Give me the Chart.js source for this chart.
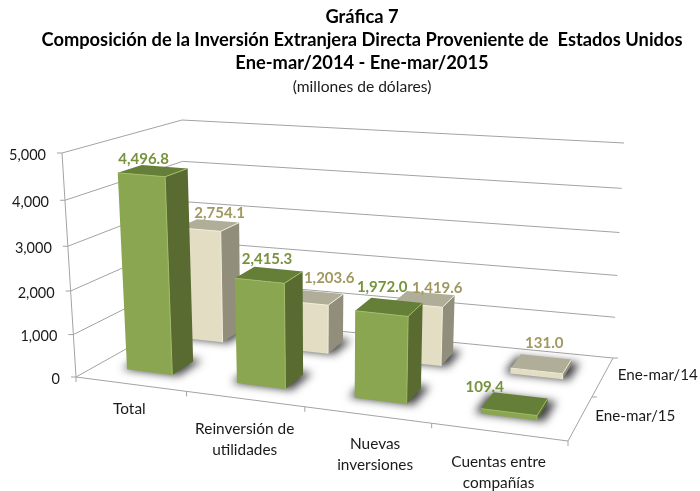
<!DOCTYPE html>
<html>
<head>
<meta charset="utf-8">
<style>
  body { margin: 0; background: #fff; }
</style>
</head>
<body>
<canvas id="myChart" width="700" height="491"></canvas>
<script src="https://cdn.jsdelivr.net/npm/chart.js@4/dist/chart.umd.min.js"></script>
<script>
const categorias = ['Total', ['Reinversión de', 'utilidades'], ['Nuevas', 'inversiones'], ['Cuentas entre', 'compañías']];
const valores2015 = [4496.8, 2415.3, 1972.0, 109.4];
const valores2014 = [2754.1, 1203.6, 1419.6, 131.0];
const ticksValor = [0, 1000, 2000, 3000, 4000, 5000];

const fuente = 'Lato, "Open Sans", sans-serif';

// --- CAJA 3D: esquinas del marco en pantalla (piso y techo) ---
const piso = { fi: [76, 377], fd: [568, 441], ti: [185, 316], td: [613, 358] };
const techo = { fi: [62, 153], fd: [581, 196], ti: [182, 120], td: [624, 143] };

// profundidad de cada serie dentro de la caja [desde, hasta]
const filas = [[0.17, 0.37], [0.67, 0.86]];
const estilos = [
  { frente: '#8AA650', lado: '#596B30', arriba: '#667F38', brillo: '#A2BC68', texto: '#76933C' },
  { frente: '#E2DDC3', lado: '#918F7C', arriba: '#B0AE98', brillo: '#F1EEDC', texto: '#A09860' }
];
// ajuste a mano de las etiquetas respecto al centro de la cara superior
const ajusteEtiquetas = [
  [[-9.5, -12], [-2, -16], [-7, -20], [-30, -17]],
  [[11, -12], [16, -19], [13, -11], [3, -21]]
];
const ajusteCategorias = [[-1, -3], [0, 2], [8, 1], [0, 2]];

function curva(t, w) {
  return t / (t + (1 - t) * w);
}

function mezcla(a, b, t) {
  return [a[0] + (b[0] - a[0]) * t, a[1] + (b[1] - a[1]) * t];
}

function proyectar(u, d, h) {
  const fu = curva(u, 1.15);
  const fd = curva(d, 0.886);
  const fh = curva(h, 1.07);
  const abajo = mezcla(mezcla(piso.fi, piso.fd, fu), mezcla(piso.ti, piso.td, fu), fd);
  const alto = mezcla(mezcla(techo.fi, techo.fd, fu), mezcla(techo.ti, techo.td, fu), fd);
  return mezcla(abajo, alto, fh);
}

function poligono(ctx, puntos, color) {
  ctx.beginPath();
  puntos.forEach((p, i) => (i ? ctx.lineTo(p[0], p[1]) : ctx.moveTo(p[0], p[1])));
  ctx.closePath();
  ctx.fillStyle = color;
  ctx.fill();
}

function linea(ctx, puntos, color) {
  ctx.beginPath();
  puntos.forEach((p, i) => (i ? ctx.lineTo(p[0], p[1]) : ctx.moveTo(p[0], p[1])));
  ctx.strokeStyle = color;
  ctx.lineWidth = 1;
  ctx.stroke();
}

const caja3d = {
  id: 'caja3d',
  beforeDatasetsDraw(chart) {
    const ctx = chart.ctx;
    const sx = chart.scales.x;
    const sy = chart.scales.y;
    const uDe = (px) => (px - sx.left) / sx.width;
    const hDe = (px) => (sy.bottom - px) / sy.height;
    const gris = '#A3A3A3';

    ctx.save();

    // rejilla sobre las paredes
    sy.ticks.forEach((t) => {
      const h = hDe(sy.getPixelForValue(t.value));
      linea(ctx, [proyectar(0, 0, h), proyectar(0, 1, h), proyectar(1, 1, h)], gris);
      const p = proyectar(0, 0, h);
      linea(ctx, [p, [p[0] - 5, p[1]]], gris);
      ctx.font = '14.5px ' + fuente;
      ctx.fillStyle = '#1a1a1a';
      ctx.textAlign = 'right';
      ctx.textBaseline = 'middle';
      ctx.fillText(t.label, p[0] - 16, p[1] + 2);
    });
    linea(ctx, [proyectar(0, 0, 0), proyectar(0, 0, 1)], gris);
    linea(ctx, [proyectar(0, 0, 0), proyectar(1, 0, 0), proyectar(1, 1, 0)], gris);

    // marcas y nombres de categoria
    categorias.forEach((c, i) => {
      const p = proyectar((i + 1) / categorias.length, 0, 0);
      linea(ctx, [p, [p[0], p[1] + 5]], gris);
      const centro = proyectar(uDe(sx.getPixelForValue(i)), 0, 0);
      const lineas = Array.isArray(c) ? c : [c];
      ctx.font = '15.4px ' + fuente;
      ctx.fillStyle = '#1a1a1a';
      ctx.textAlign = 'center';
      ctx.textBaseline = 'middle';
      lineas.forEach((txt, k) => ctx.fillText(txt, centro[0] + ajusteCategorias[i][0], centro[1] + 28 + ajusteCategorias[i][1] + k * 21));
    });
    const p0 = proyectar(0, 0, 0);
    linea(ctx, [p0, [p0[0], p0[1] + 5]], gris);

    // eje de profundidad con el nombre de cada serie
    [0.5, 1].forEach((d) => {
      const p = proyectar(1, d, 0);
      linea(ctx, [p, [p[0] + 5, p[1]]], gris);
    });
    chart.data.datasets.forEach((ds, i) => {
      const p = proyectar(1, (i + 0.5) / 2, 0);
      ctx.font = '15.2px ' + fuente;
      ctx.fillStyle = '#1a1a1a';
      ctx.textAlign = 'left';
      ctx.textBaseline = 'middle';
      ctx.fillText(ds.label, p[0] + 15, p[1] - 2);
    });

    // barras: primero la fila de atras
    [1, 0].forEach((ids) => {
      const meta = chart.getDatasetMeta(ids);
      const est = estilos[ids];
      const d0 = filas[ids][0];
      const d1 = filas[ids][1];

      // sombra difusa sobre el piso (el poligono se dibuja fuera del canvas, solo se ve su sombra)
      meta.data.forEach((bar) => {
        const u0 = uDe(bar.x - bar.width / 2) - 0.012;
        const u1 = uDe(bar.x + bar.width / 2) + 0.014;
        const huella = [proyectar(u0, d0, 0), proyectar(u1, d0, 0), proyectar(u1, d1 + 0.03, 0), proyectar(u0, d1 + 0.03, 0)];
        ctx.save();
        ctx.shadowColor = 'rgba(0,0,0,0.75)';
        ctx.shadowBlur = 9;
        ctx.shadowOffsetX = 2000;
        poligono(ctx, huella.map((p) => [p[0] - 2000, p[1]]), '#000');
        ctx.restore();
      });

      meta.data.forEach((bar) => {
        const u0 = uDe(bar.x - bar.width / 2);
        const u1 = uDe(bar.x + bar.width / 2);
        const h = hDe(bar.y);
        const a = proyectar(u0, d0, 0);
        const b = proyectar(u1, d0, 0);
        const c = proyectar(u1, d1, 0);
        const e = proyectar(u0, d0, h);
        const f = proyectar(u1, d0, h);
        const g = proyectar(u1, d1, h);
        const k = proyectar(u0, d1, h);
        poligono(ctx, [a, b, f, e], est.frente);
        poligono(ctx, [b, c, g, f], est.lado);
        poligono(ctx, [e, f, g, k], est.arriba);
        linea(ctx, [e, f, b], est.brillo);
        linea(ctx, [f, g], est.brillo);
      });
    });

    // etiquetas de valor
    chart.data.datasets.forEach((ds, ids) => {
      const meta = chart.getDatasetMeta(ids);
      meta.data.forEach((bar, i) => {
        const p = proyectar(uDe(bar.x), (filas[ids][0] + filas[ids][1]) / 2, hDe(bar.y));
        const aj = ajusteEtiquetas[ids][i];
        ctx.font = 'bold 15px ' + fuente;
        ctx.fillStyle = estilos[ids].texto;
        ctx.textAlign = 'center';
        ctx.textBaseline = 'middle';
        ctx.fillText(ds.data[i].toLocaleString('en-US', { minimumFractionDigits: 1 }), p[0] + aj[0], p[1] + aj[1]);
      });
    });

    ctx.restore();
    return false;
  }
};

new Chart(document.getElementById('myChart'), {
  type: 'bar',
  data: {
    labels: categorias,
    datasets: [
      { label: 'Ene-mar/15', data: valores2015, backgroundColor: estilos[0].frente, grouped: false, barPercentage: 0.42, categoryPercentage: 1 },
      { label: 'Ene-mar/14', data: valores2014, backgroundColor: estilos[1].frente, grouped: false, barPercentage: 0.42, categoryPercentage: 1 }
    ]
  },
  options: {
    responsive: false,
    animation: false,
    layout: { padding: { left: 24 } },
    plugins: {
      legend: { display: false },
      tooltip: { enabled: false },
      title: {
        display: true,
        text: ['Gráfica 7', 'Composición de la Inversión Extranjera Directa Proveniente de  Estados Unidos', 'Ene-mar/2014 - Ene-mar/2015'],
        color: '#000',
        font: { family: fuente, size: 18.3, weight: 'bold', lineHeight: 1.26 },
        padding: { top: 5.5, bottom: 0 }
      },
      subtitle: {
        display: true,
        text: '(millones de dólares)',
        color: '#1a1a1a',
        font: { family: fuente, size: 15.6 },
        padding: { top: 2.5, bottom: 10 }
      }
    },
    scales: {
      x: { ticks: { display: false }, grid: { display: false }, border: { display: false } },
      y: {
        min: 0,
        max: 5000,
        afterBuildTicks: (scale) => { scale.ticks = ticksValor.map((v) => ({ value: v })); },
        ticks: { display: false, callback: (v) => v.toLocaleString('en-US') },
        grid: { display: false },
        border: { display: false }
      }
    }
  },
  plugins: [caja3d]
});
</script>
</body>
</html>
